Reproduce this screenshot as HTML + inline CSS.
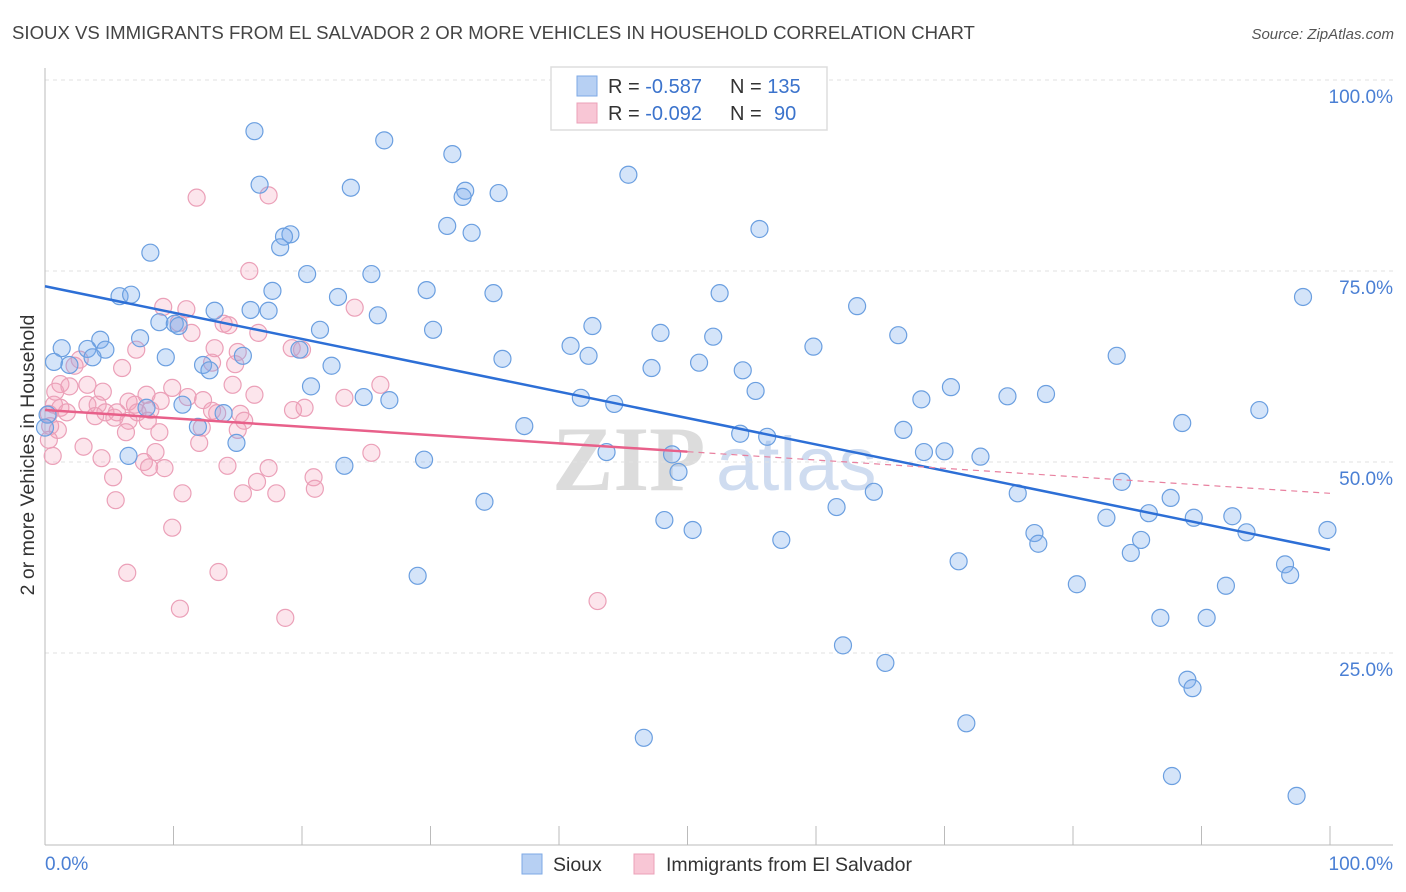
<!DOCTYPE html>
<html><head><meta charset="utf-8"><style>
body{margin:0;background:#fff;font-family:"Liberation Sans",sans-serif;}
svg{display:block}
</style></head><body>
<svg id="chart" width="1406" height="892" xmlns="http://www.w3.org/2000/svg">
<text x="12" y="39" font-size="18.6" fill="#444">SIOUX VS IMMIGRANTS FROM EL SALVADOR 2 OR MORE VEHICLES IN HOUSEHOLD CORRELATION CHART</text>
<text x="1394" y="39" font-size="15" fill="#555" font-style="italic" text-anchor="end">Source: ZipAtlas.com</text>
<text transform="translate(34,455) rotate(-90)" font-size="19.5" fill="#333" text-anchor="middle">2 or more Vehicles in Household</text>
<g>
<text x="552" y="490" font-size="92" font-family="Liberation Serif,serif" font-weight="bold" fill="#dcdcdc">ZIP</text>
<text x="716" y="490" font-size="76" fill="#cfdcf0">atlas</text>
</g>
<g id="grid"></g>
<g id="axes"></g>
<g id="pinkpts"></g>
<g id="bluepts"></g>
<g id="lines"></g>
<g>
<rect x="551" y="67" width="276" height="63" fill="#fff" stroke="#ddd" stroke-width="1.5"/>
<rect x="577" y="76" width="20" height="20" fill="#b7d0f3" stroke="#7ea9e6"/>
<rect x="577" y="103" width="20" height="20" fill="#f8c6d5" stroke="#eba0b8"/>
<text x="608" y="93" font-size="20" fill="#333">R = <tspan fill="#3b73cc">-0.587</tspan><tspan x="730">N = </tspan><tspan fill="#3b73cc">135</tspan></text>
<text x="608" y="120" font-size="20" fill="#333">R = <tspan fill="#3b73cc">-0.092</tspan><tspan x="730">N = </tspan><tspan fill="#3b73cc" x="774">90</tspan></text>
</g>
<g>
<rect x="522" y="854" width="20" height="20" fill="#b7d0f3" stroke="#7ea9e6"/>
<text x="553" y="871" font-size="19.5" fill="#333">Sioux</text>
<rect x="634" y="854" width="20" height="20" fill="#f8c6d5" stroke="#eba0b8"/>
<text x="666" y="871" font-size="19.5" fill="#333">Immigrants from El Salvador</text>
</g>
</svg>
<script>
const yTicks=[25,50,75,100];
const yTickLabels=["25.0%","50.0%","75.0%","100.0%"];
const xTicks=[0,10,20,30,40,50,60,70,80,90,100];
const xEndLabels=["0.0%","100.0%"];
const blueX=[16.3,26.4,31.7,45.4,16.7,23.8,32.7,32.5,35.3,19.1,18.6,18.3,31.3,33.2,55.6,8.2,20.4,25.4,5.8,6.7,17.7,29.7,34.9,22.8,52.5,97.9,63.2,13.2,16.0,17.4,25.9,8.9,10.1,10.4,21.4,30.2,42.6,47.9,52.0,66.4,7.4,4.3,1.3,3.3,4.7,40.9,59.8,83.4,9.4,0.7,1.9,3.7,12.3,12.8,15.4,19.8,22.3,35.6,42.3,47.2,50.9,54.3,20.7,24.8,26.8,41.7,44.3,55.3,68.2,70.5,74.9,77.9,94.5,13.9,7.9,10.7,11.9,37.3,88.5,66.8,54.1,56.2,68.4,70.0,72.8,14.9,6.5,23.3,29.5,43.7,48.8,49.3,64.5,75.7,83.8,34.2,61.6,48.2,50.4,87.6,82.6,85.9,89.4,92.4,93.5,99.8,77.0,77.3,85.3,84.5,57.3,71.1,96.5,96.9,80.3,91.9,29.0,86.8,90.4,62.1,65.4,88.9,89.3,71.7,46.6,87.7,97.4,0.2,0,43.7];
const blueY=[93.3,92.1,90.3,87.6,86.3,85.9,85.5,84.7,85.2,79.8,79.5,78.1,80.9,80.0,80.5,77.4,74.6,74.6,71.7,71.9,72.4,72.5,72.1,71.6,72.1,71.6,70.4,69.8,69.9,69.8,69.2,68.3,68.1,67.8,67.3,67.3,67.8,66.9,66.4,66.6,66.2,66.0,64.9,64.8,64.7,65.2,65.1,63.9,63.7,63.1,62.7,63.7,62.7,62.0,63.9,64.7,62.6,63.5,63.9,62.3,63.0,62.0,59.9,58.5,58.1,58.4,57.6,59.3,58.2,59.8,58.6,58.9,56.8,56.4,57.1,57.5,54.6,54.7,55.1,54.2,53.7,53.3,51.3,51.4,50.7,52.5,50.8,49.5,50.3,51.3,51.0,48.7,46.1,45.9,47.4,44.8,44.1,42.4,41.1,45.3,42.7,43.3,42.7,42.9,40.8,41.1,40.7,39.3,39.8,38.1,39.8,37.0,36.6,35.2,34.0,33.8,35.1,29.6,29.6,26.0,23.7,21.5,20.4,15.8,13.9,8.9,6.3,56.2,54.5,99.6];
const pinkX=[11.8,17.4,15.9,9.2,11.0,24.1,10.4,13.9,14.3,11.4,16.6,19.2,20.0,7.1,13.2,15.0,2.7,2.3,6.0,13.0,14.8,1.2,1.9,3.3,9.9,14.6,26.1,0.8,4.5,7.9,9.0,11.1,12.3,16.3,23.3,0.7,1.2,3.3,4.1,6.5,7.0,4.7,5.6,0.3,1.7,3.9,5.4,7.2,8.2,13.0,15.2,19.3,20.2,6.5,15.5,0.4,1.0,8.0,6.3,8.9,12.2,13.4,0.3,8.6,7.7,0.6,3.0,4.4,8.1,9.3,14.2,15.0,17.4,12.0,25.4,5.3,16.5,15.4,18.0,20.9,21.0,10.7,5.5,9.9,6.4,13.5,10.5,18.7,43.0];
const pinkY=[84.6,84.9,75.0,70.3,70.0,70.2,68.2,68.1,67.9,66.9,66.9,64.9,64.7,64.7,64.9,64.4,63.4,62.6,62.3,63.0,62.8,60.2,59.9,60.1,59.7,60.1,60.1,59.2,59.2,58.8,58.0,58.5,58.1,58.8,58.4,57.5,57.1,57.5,57.5,57.9,57.5,56.5,56.5,56.3,56.5,56.0,55.8,56.5,56.8,56.7,56.3,56.8,57.1,55.4,55.4,54.7,54.2,55.4,53.9,53.9,54.5,56.4,52.9,51.3,50.0,50.8,52.0,50.5,49.3,49.2,49.5,54.2,49.2,52.5,51.2,48.0,47.4,45.9,45.9,48.0,46.5,45.9,45.0,41.4,35.5,35.6,30.8,29.6,31.8];
const blueTrend=[73.0,38.5];
const pinkTrend=[56.8,45.9];
const pinkSolidEnd=50;

const NS="http://www.w3.org/2000/svg";
const X0=45,X1=1330,Y0=844,Y100=80;
const sx=v=>X0+(X1-X0)*v/100;
const sy=v=>Y0-(Y0-Y100)*v/100;
function mk(tag,attrs,parent){const e=document.createElementNS(NS,tag);for(const k in attrs)e.setAttribute(k,attrs[k]);parent.appendChild(e);return e;}

const grid=document.getElementById('grid');
yTicks.forEach((t,i)=>{
  const l=mk('line',{x1:45,x2:1393,y1:sy(t),y2:sy(t),stroke:'#e2e2e2','stroke-dasharray':'4,4'},grid);
  
  
  const tx=mk('text',{x:1393,y:sy(t)+23,'font-size':19,fill:'#4a7fd4','text-anchor':'end'},grid);
  tx.textContent=yTickLabels[i];
  
  
});
const axes=document.getElementById('axes');
const ya=mk('line',{x1:45,x2:45,y1:68,y2:845,stroke:'#bbb'},axes);


const xa=mk('line',{x1:45,x2:1393,y1:845,y2:845,stroke:'#bbb'},axes);


xTicks.forEach(t=>{
  const l=mk('line',{x1:sx(t),x2:sx(t),y1:826,y2:845,stroke:'#bbb'},axes);
  
  
});
const xl0=mk('text',{x:45,y:870,'font-size':19,fill:'#4a7fd4'},axes);
xl0.textContent=xEndLabels[0];


const xl1=mk('text',{x:1393,y:870,'font-size':19,fill:'#4a7fd4','text-anchor':'end'},axes);
xl1.textContent=xEndLabels[1];



const pg=document.getElementById('pinkpts');
pinkX.forEach((x,i)=>{
  const c=mk('circle',{cx:sx(x),cy:sy(pinkY[i]),r:8.5,fill:'rgba(245,160,185,0.28)',stroke:'#eba0b8','stroke-width':1.2},pg);
  
  
});
const bg=document.getElementById('bluepts');
blueX.forEach((x,i)=>{
  const c=mk('circle',{cx:sx(x),cy:sy(blueY[i]),r:8.5,fill:'rgba(120,170,235,0.32)',stroke:'#6b9fe0','stroke-width':1.2},bg);
  
  
});
const lg=document.getElementById('lines');
const bl=mk('line',{x1:sx(0),y1:sy(blueTrend[0]),x2:sx(100),y2:sy(blueTrend[1]),stroke:'#2d6fd6','stroke-width':2.5},lg);


const pm=pinkTrend[0]+(pinkTrend[1]-pinkTrend[0])*pinkSolidEnd/100;
const pl=mk('line',{x1:sx(0),y1:sy(pinkTrend[0]),x2:sx(pinkSolidEnd),y2:sy(pm),stroke:'#e8608a','stroke-width':2.5},lg);


const pd=mk('line',{x1:sx(pinkSolidEnd),y1:sy(pm),x2:sx(100),y2:sy(pinkTrend[1]),stroke:'#e8809f','stroke-width':1.2,'stroke-dasharray':'6,5'},lg);


</script>
</body></html>
